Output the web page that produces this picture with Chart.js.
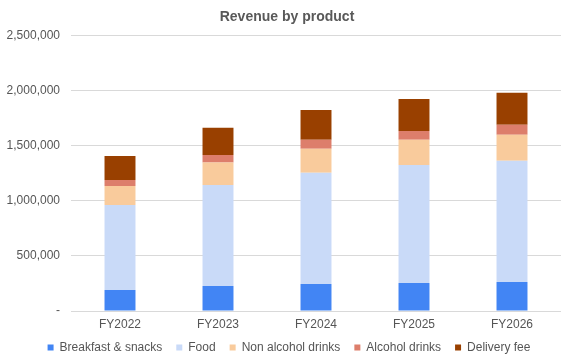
<!DOCTYPE html>
<html>
<head>
<meta charset="utf-8">
<script src="https://cdn.jsdelivr.net/npm/chart.js@4/dist/chart.umd.min.js"></script>
<style>
  html, body { margin: 0; padding: 0; background: #fff; }
  #wrap { width: 574px; height: 364px; position: relative; }
</style>
</head>
<body>
<div id="wrap"><canvas id="c" width="574" height="364"></canvas></div>
<script>
const categories = ['FY2022', 'FY2023', 'FY2024', 'FY2025', 'FY2026'];
const breakfastSnacks = [191000, 227000, 245000, 255000, 264000];
const food = [773000, 918000, 1010000, 1072000, 1100000];
const nonAlcoholDrinks = [172000, 203000, 218000, 228000, 236000];
const alcoholDrinks = [55000, 70000, 82000, 81000, 91000];
const deliveryFee = [218000, 246000, 272000, 291000, 291000];
const yTicks = [0, 500000, 1000000, 1500000, 2000000, 2500000];

const shiftPlugin = {
  id: 'shiftTitleLegend',
  afterLayout(chart) {
    if (chart.titleBlock) { chart.titleBlock.left += 3; chart.titleBlock.right += 3; }
    if (chart.legend) {
      chart.legend.left += 5; chart.legend.right += 5;
      const dy = 327.5 - chart.legend.top;
      chart.legend.top += dy; chart.legend.bottom += dy;
    }
  }
};

Chart.defaults.font.family = '"Liberation Sans", Arial, sans-serif';

new Chart(document.getElementById('c'), {
  type: 'bar',
  data: {
    labels: categories,
    datasets: [
      { label: 'Breakfast & snacks', data: breakfastSnacks, backgroundColor: '#4285f4' },
      { label: 'Food', data: food, backgroundColor: '#c9daf8' },
      { label: 'Non alcohol drinks', data: nonAlcoholDrinks, backgroundColor: '#f9cb9c' },
      { label: 'Alcohol drinks', data: alcoholDrinks, backgroundColor: '#dd7e6b' },
      { label: 'Delivery fee', data: deliveryFee, backgroundColor: '#994000' }
    ].map(ds => Object.assign(ds, { barPercentage: 0.316, categoryPercentage: 1, borderWidth: 0 }))
  },
  options: {
    responsive: false,
    animation: false,
    layout: { padding: { left: 7, right: 13, top: 0, bottom: 0 } },
    plugins: {
      title: {
        display: true,
        text: 'Revenue by product',
        color: '#595959',
        font: { size: 14, weight: 'bold' },
        padding: { top: 9, bottom: 10 }
      },
      legend: {
        position: 'bottom',
        maxHeight: 31,
        labels: {
          boxWidth: 6,
          boxHeight: 6,
          color: '#555555',
          font: { size: 12 },
          padding: 14
        }
      },
      tooltip: { enabled: false }
    },
    scales: {
      x: {
        stacked: true,
        grid: { display: false, drawTicks: false },
        border: { display: false },
        ticks: { color: '#555555', font: { size: 12 }, padding: 6 },
        afterFit(axis) { axis.height = 22; }
      },
      y: {
        stacked: true,
        min: yTicks[0],
        max: yTicks[yTicks.length - 1],
        afterBuildTicks(axis) { axis.ticks = yTicks.map(v => ({ value: v })); },
        afterFit(axis) { axis.width = 64; },
        grid: { color: '#d9d9d9', drawTicks: false },
        border: { display: false },
        ticks: {
          color: '#555555',
          font: { size: 12 },
          padding: 11,
          callback: v => v === 0 ? '-' : Number(v).toLocaleString('en-US')
        }
      }
    }
  },
  plugins: [shiftPlugin]
});
</script>
</body>
</html>
